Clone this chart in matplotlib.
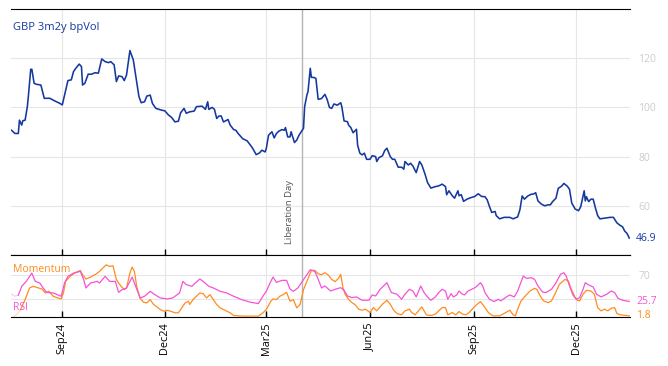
import numpy as np
import pandas as pd
import matplotlib
matplotlib.use("Agg")
import matplotlib.pyplot as plt
import matplotlib.dates as mdates

plt.rcParams['font.family'] = ['Open Sans', 'DejaVu Sans']

# ---------------- data (day offsets from base date) ----------------
BASE = pd.Timestamp("2024-09-01")

vol_days = [-45, -42, -39, -38, -36, -35, -33, -31, -30, -28, -27, -25, -23, -19, -16, -11, -7, -2,
            0, 2, 5, 8, 10, 12, 15, 17, 18, 20, 23, 26, 29, 32, 35, 38, 41, 43, 46, 48, 50, 53, 55, 57,
            60, 63, 66, 68, 70, 73, 75, 78, 80, 83, 88, 91, 94, 97, 100, 103, 105, 108, 110, 113, 117,
            119, 124, 127, 129, 130, 133, 135, 137, 139, 141, 143, 146, 147, 149, 152, 154, 156, 160,
            164, 167, 169, 172, 175, 177, 180, 181, 183, 186, 188, 190, 192, 195, 197, 198, 200, 202,
            203, 206, 208, 210, 212, 214, 215, 217, 218, 220, 221, 223, 225, 227, 230, 233, 235, 237,
            239, 241, 244, 247, 248, 250, 253, 254, 256, 258, 261, 262, 264, 266, 268, 270, 273, 275,
            278, 279, 281, 284, 286, 288, 291, 293, 295, 298, 301, 303, 304, 307, 309, 311, 314, 317,
            319, 322, 324, 327, 331, 334, 337, 340, 341, 343, 346, 348, 351, 352, 354, 356, 359, 363,
            366, 369, 372, 375, 377, 379, 381, 384, 385, 388, 392, 397, 400, 404, 406, 408, 410, 413,
            416, 418, 420, 422, 425, 428, 431, 433, 435, 438, 440, 443, 445, 448, 450, 452, 455, 458,
            460, 463, 464, 465, 467, 469, 471, 473, 475, 477, 483, 486, 489, 492, 495, 497, 499, 501, 503]
vol_vals = [90.7, 89.4, 89.4, 94.8, 92.8, 94.6, 94.8, 100.3, 105, 115.5, 115.5, 109.8, 109.4, 109.1,
            103.7, 103.7, 102.7, 101.6,
            101, 105, 110.9, 111.2, 114.6, 115.9, 117.6, 116.6, 109.1, 109.8, 113.5, 113.5, 114.1, 113.9,
            119.7, 118.6, 118.2, 118.6, 117.3, 110.5, 112.8, 112.5, 110.9, 113.2,
            123.1, 119.3, 110.5, 104.4, 101.9, 102.3, 104.6, 105, 101.6, 99.6, 98.9, 98.6, 97.0, 95.9,
            94.1, 94.4, 97.8, 99.6, 97.6, 98.2, 98.5,
            100.3, 100.5, 99.2, 102.3, 99.2, 100, 99.2, 95.5, 96.5, 96.5, 94.1, 94.8, 95.1, 92.8, 91,
            90.7, 89.4, 87.3,
            86.4, 84.6, 83.3, 80.8, 81.5, 82.6, 81.9, 83.3, 88.7, 90.1, 87.6, 89.4, 90.3, 91, 90.7, 91.8,
            88, 88,
            90.1, 85.7, 86.7, 88.7, 90.1, 91.5, 100.3, 105, 106.4, 115.9, 112.2, 112.2, 111.8, 103.3,
            103.6, 105.3, 103.2, 100,
            99.6, 101.4, 100.9, 101.9, 100.3, 94.5, 94.2, 92.8, 91.8, 89.7, 91.1, 84.7, 81.4, 80.7, 81.4,
            78.9, 78.9, 80.4,
            80, 78, 79.6, 80.3, 82.4, 83.4, 80, 78.9, 78.9, 75.7, 75.7, 74.9, 78, 76.6, 77.3, 76.2, 73.5,
            78,
            76.6, 72.6, 69.5, 67.2, 67.8, 68.1, 68.8, 67.8, 64.5, 66.1, 64.1, 63.1, 66.1, 64.1, 64.5,
            61.8, 62.7, 63.4,
            63.8, 64.9, 63.8, 63.7, 62.4, 59.7, 57.3, 57.7, 56, 54.7, 55.3, 55.3, 54.7, 55.5, 58.4, 64,
            62.7, 64,
            64.7, 64.8, 65.3, 62, 60.7, 60, 60.4, 60.4, 61.7, 63.1, 67.1, 68, 69.1, 68, 66.7, 61.1, 58.7,
            58,
            59.7, 66.1, 62, 63.7, 61.7, 62.7, 62.7, 59.1, 56, 54.7, 55.1, 55.3, 55.3, 53.1, 52, 51.5,
            49.7, 48.8, 46.9]

rsi_warm_days = [-45, -42, -39]
rsi_warm_vals = [37.5, 34.5, 36.0]
rsi_days = [-39, -36, -32, -27, -24, -20, -17, -14, -8, -1, 2, 5, 10, 16, 19, 21, 25, 31, 33, 38, 42,
            47, 50, 53, 57, 62, 64, 69, 73, 78, 82, 87, 93, 98, 104, 107, 110, 115, 118, 122, 125, 130,
            134, 140, 146, 152, 159, 167, 174, 178, 181, 185, 187, 190, 195, 199, 202, 205, 209, 212,
            217, 220, 224, 227, 230, 233, 238, 242, 247, 250, 253, 257, 261, 266, 272, 275, 278, 282,
            288, 292, 297, 301, 304, 308, 311, 314, 318, 321, 324, 327, 331, 334, 337, 340, 342, 345,
            347, 350, 352, 355, 357, 360, 365, 367, 371, 373, 375, 379, 383, 387, 389, 394, 397, 401,
            404, 409, 412, 416, 419, 422, 426, 429, 434, 438, 442, 445, 447, 450, 453, 456, 459, 462,
            464, 466, 471, 474, 478, 483, 487, 490, 493, 497, 503]
rsi_vals = [36.0, 50.7, 58.9, 72.6, 58.9, 56.2, 48, 40.8, 39.7, 34.3, 56.2, 67.2, 72.6, 75.4, 61.7,
            48, 56.2, 58.9, 56.2, 67.2, 58.9,
            58.9, 40.8, 45.2, 48, 66, 56.2, 31.5, 34.3, 42.5, 37, 31.5, 29.9, 31.5, 39.7, 58.9, 53.5,
            50.7, 56.2, 62.8, 58.9, 50.7,
            48, 42.5, 39.7, 34.3, 28.8, 24.4, 22.2, 34.3, 42.5, 58.9, 66, 57.3, 60.6, 60.6, 46.3, 42.5,
            48, 56.2,
            69.9, 78.1, 75.4, 62.8, 48, 51.3, 43, 45.8, 48.5, 44.1, 34.8, 32.1, 33.2, 27.7, 27.7, 36.5,
            34.8, 45.8,
            56.7, 40.3, 37.6, 29.3, 37.6, 45.8, 43, 33.2, 51.3, 40.3, 33.2, 27.7, 33.2, 40.3, 45.8, 43,
            29.3, 38.7,
            33.2, 36.5, 43, 37.6, 36.5, 43, 47.4, 49.6, 56.7, 51.3, 40.3, 29.3, 25.5, 29.3, 26.6, 33.2,
            36.5, 33.2,
            43, 67.7, 63.9, 65, 62.2, 51.3, 41.4, 40.3, 45.8, 56.7, 70.5, 73.2, 67.7, 51.3, 36.5, 29.3,
            32.1, 45.8,
            56.7, 54, 49.6, 37.6, 33.2, 37.6, 43, 40.3, 31, 27.7, 25.7]

mom_warm_days = [-43, -40, -37]
mom_warm_vals = [0.5, 5.0, 12.0]
mom_days = [-37, -33, -29, -26, -21, -18, -15, -12, -8, -4, -1, 1, 3, 7, 11, 16, 18, 21, 25, 29, 32,
            36, 39, 42, 45, 48, 51, 55, 57, 60, 62, 64, 66, 69, 72, 75, 78, 81, 84, 87, 90, 93, 96, 100,
            103, 106, 109, 112, 113, 116, 119, 122, 125, 128, 131, 134, 137, 140, 143, 146, 149, 152,
            161, 169, 174, 178, 181, 185, 187, 190, 193, 196, 199, 202, 205, 208, 211, 214, 217, 221,
            224, 227, 230, 233, 236, 239, 242, 245, 247, 249, 251, 254, 257, 260, 263, 266, 269, 273,
            276, 279, 284, 288, 291, 294, 297, 301, 304, 308, 310, 313, 316, 319, 321, 323, 327, 331,
            334, 337, 340, 342, 346, 349, 352, 355, 358, 361, 365, 368, 371, 375, 378, 382, 388, 392,
            397, 400, 402, 404, 407, 410, 415, 419, 421, 424, 427, 431, 434, 437, 441, 446, 449, 451,
            455, 457, 459, 462, 465, 469, 472, 475, 478, 481, 484, 487, 490, 492, 495, 503]
mom_vals = [12.0, 28.8, 48, 50.7, 48, 46.3, 39.7, 42.5, 34.3, 31.5, 29.9, 39.7, 58.9, 67.2, 72.6, 77,
            69.9, 62.8, 66, 69.9, 73.7,
            80.9, 86.3, 83.6, 84.7, 61.7, 53.5, 45.2, 48, 72.6, 82.5, 75.4, 50.7, 31.5, 24.4, 23.3, 28.8,
            20.6, 16.7, 12.3, 9.6, 11.2, 9.6, 6.9,
            6.9, 15.1, 23.3, 26, 20.6, 28.8, 34.3, 39.7, 38.6, 31.5, 37, 28.8, 20.6, 15.1, 12.3, 9.6,
            6.9, 2.5,
            1.4, 1.4, 1.4, 6.9, 12.3, 26, 29.9, 28.8, 34.3, 37, 40.8, 26, 28.8, 15.1, 20.6, 45.2, 58.9,
            77,
            77, 71.5, 69.9, 73.2, 69.4, 62.2, 58.4, 63.9, 70.5, 48.4, 37.3, 29.1, 23.8, 20, 12.9, 11.2,
            12.9, 7.4,
            15.6, 10.1, 21.1, 27.7, 21.1, 11.2, 5.8, 3.6, 10.1, 12.9, 7.4, 3.6, 10.1, 16.7, 10.1, 3.6,
            2.5, 4.7,
            10.1, 15.6, 15.6, 3.6, 7.4, 3.6, 9, 4.7, 3.6, 7.4, 15.6, 21.1, 25.5, 15.6, 7.4, 1.9, 1.9,
            5.8,
            11.2, 3.6, 1.9, 12.9, 26.6, 33.2, 43, 47.4, 45.8, 34.8, 26.6, 23.8, 26.6, 37.6, 54, 62.2,
            59.5, 48.5,
            32.1, 27.7, 26.6, 37.6, 44.1, 43, 37.6, 15.6, 10.1, 12.9, 10.1, 14.5, 15.6, 5.8, 3.6, 1.8]

month_ticks = ["2024-09-01", "2024-12-01", "2025-03-01", "2025-06-01", "2025-09-01", "2025-12-01"]
month_labels = ["Sep24", "Dec24", "Mar25", "Jun25", "Sep25", "Dec25"]
event_date = "2025-04-02"
event_label = "Liberation Day"
title = "GBP 3m2y bpVol"
x_range = ["2024-07-18", "2026-01-18"]

# ---------------- styling ----------------
BLUE = "#1438a0"
ORANGE = "#ff8c1f"
MAGENTA = "#f553d6"
GRID = "#e6e6e6"
TICKGREY = "#cccccc"


def to_dates(days):
    return BASE + pd.to_timedelta(days, unit="D")


fig = plt.figure(figsize=(6.68, 3.66), dpi=100)
ax = fig.add_axes([11 / 668, 1 - 255 / 366, 619 / 668, 246 / 366])
ax2 = fig.add_axes([11 / 668, 1 - 317 / 366, 619 / 668, 62 / 366], sharex=ax)

xticks = pd.to_datetime(month_ticks)
xlim = pd.to_datetime(x_range)

# main panel
ax.plot(to_dates(vol_days), vol_vals, color=BLUE, lw=1.15, zorder=3)
ax.set_ylim(40, 140)
ax.set_xlim(xlim[0] - pd.Timedelta(hours=12), xlim[1] - pd.Timedelta(hours=8))
ax.set_yticks([60, 80, 100, 120])
ax.yaxis.tick_right()
ax.tick_params(axis="y", length=0, labelcolor=TICKGREY, labelsize=7.5, pad=6)
ax.set_xticks(xticks)
ax.tick_params(axis="x", direction="in", length=4, width=1, color="black", labelbottom=False)
ax.grid(True, color=GRID, lw=0.8)
ax.set_axisbelow(True)
for s in ["left", "right"]:
    ax.spines[s].set_visible(False)
ax.spines["top"].set_color("black")
ax.spines["bottom"].set_color("black")
ax.text(0.004, 0.925, title, transform=ax.transAxes, color=BLUE, fontsize=8, va="center", ha="left")
ax.text(1.01, vol_vals[-1], f"{vol_vals[-1]:.1f}", transform=ax.get_yaxis_transform(),
        color=BLUE, fontsize=7.5, va="center", ha="left")

ev = pd.Timestamp(event_date)
ax.axvline(ev, color="#b5b5b5", lw=1, zorder=2)
ax2.axvline(ev, color="#b5b5b5", lw=1, zorder=2)
ax.text(ev - pd.Timedelta(days=11), 44.6, event_label, rotation=90, color="#555555",
        fontsize=6.8, ha="center", va="bottom")

# lower panel
ax2.plot(to_dates(rsi_warm_days), rsi_warm_vals, color=MAGENTA, lw=0.9, alpha=0.3, zorder=3)
ax2.plot(to_dates(mom_warm_days), mom_warm_vals, color=ORANGE, lw=0.9, alpha=0.3, zorder=3)
ax2.plot(to_dates(mom_days), mom_vals, color=ORANGE, lw=0.9, zorder=3)
ax2.plot(to_dates(rsi_days), rsi_vals, color=MAGENTA, lw=0.9, zorder=4)
ax2.set_ylim(0, 102.5)
ax2.set_yticks([30, 70])
ax2.set_yticklabels(["", "70"])
ax2.yaxis.tick_right()
ax2.tick_params(axis="y", length=0, labelcolor=TICKGREY, labelsize=7.5, pad=6)
ax2.set_xticks(xticks)
ax2.set_xticklabels(month_labels, rotation=90, fontsize=7.8)
ax2.tick_params(axis="x", direction="in", length=4, width=1, color="black", pad=4)
ax2.grid(True, color=GRID, lw=0.8)
ax2.set_axisbelow(True)
for s in ["left", "right"]:
    ax2.spines[s].set_visible(False)
ax2.text(0.004, 0.77, "Momentum", transform=ax2.transAxes, color=ORANGE, fontsize=7.5,
         va="center", ha="left")
ax2.text(0.004, 0.15, "RSI", transform=ax2.transAxes, color=MAGENTA, fontsize=7.5,
         va="center", ha="left")
ax2.text(1.01, rsi_vals[-1], f"{rsi_vals[-1]:.1f}", transform=ax2.get_yaxis_transform(),
         color=MAGENTA, fontsize=7.5, va="center", ha="left")
ax2.text(1.01, mom_vals[-1], f"{mom_vals[-1]:.1f}", transform=ax2.get_yaxis_transform(),
         color=ORANGE, fontsize=7.5, va="center", ha="left")

fig.savefig("out.png", dpi=100)
